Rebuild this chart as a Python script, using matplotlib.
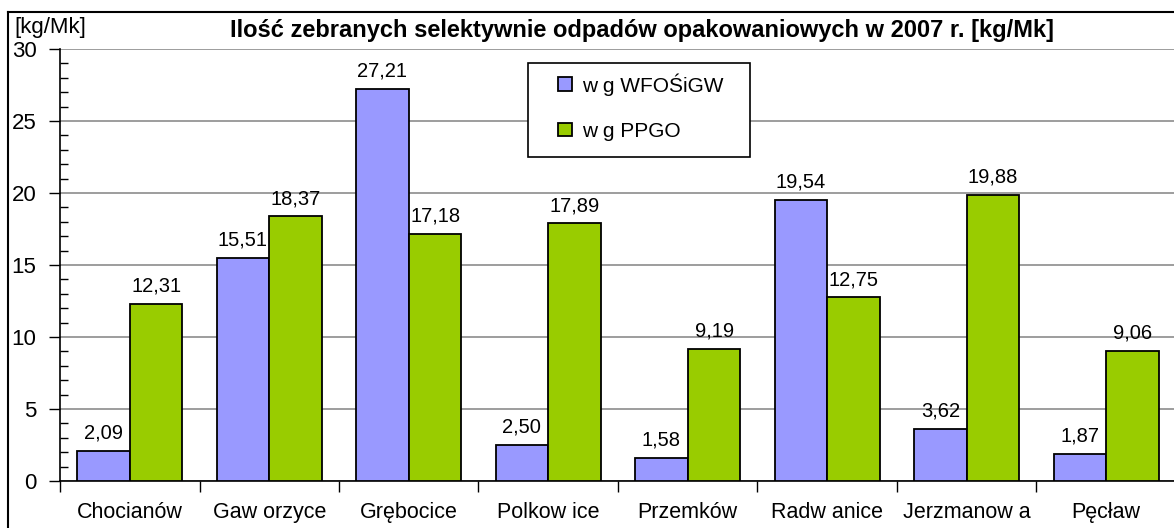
import numpy as np
import matplotlib
matplotlib.use("Agg")
import matplotlib.pyplot as plt
from matplotlib.lines import Line2D
from matplotlib.patches import Rectangle
from matplotlib.ticker import MultipleLocator, FixedLocator

plt.rcParams['font.family'] = ['Liberation Sans', 'DejaVu Sans']

gminy = ['Chocianów', 'Gaw orzyce', 'Grębocice', 'Polkow ice', 'Przemków',
         'Radw anice', 'Jerzmanow a', 'Pęcław']
wfosigw = [2.09, 15.51, 27.21, 2.50, 1.58, 19.54, 3.62, 1.87]
ppgo = [12.31, 18.37, 17.18, 17.89, 9.19, 12.75, 19.88, 9.06]
series_names = ['w g WFOŚiGW', 'w g PPGO']
title = 'Ilość zebranych selektywnie odpadów opakowaniowych w 2007 r. [kg/Mk]'

W, H = 1174, 528
fig = plt.figure(figsize=(W / 100, H / 100), dpi=100)
ax = fig.add_axes([60 / W, 1 - 481 / H, (1176 - 60) / W, (481 - 49) / H])

x = np.arange(len(gminy))
bw = 0.378
b1 = ax.bar(x - bw / 2, wfosigw, bw, color='#9999FF', edgecolor='black', linewidth=1.3,
            label=series_names[0], zorder=3)
b2 = ax.bar(x + bw / 2, ppgo, bw, color='#99CC00', edgecolor='black', linewidth=1.3,
            label=series_names[1], zorder=3)

for bars, vals in ((b1, wfosigw), (b2, ppgo)):
    for r, v in zip(bars, vals):
        ax.annotate(f'{v:.2f}'.replace('.', ','), (r.get_x() + r.get_width() / 2, v),
                    xytext=(0, 6), textcoords='offset points', ha='center', va='bottom',
                    fontsize=14.5, zorder=4)

ax.set_xlim(-0.5, len(gminy) - 0.5)
ax.set_ylim(0, 30)
ax.yaxis.set_major_locator(MultipleLocator(5))
ax.yaxis.set_minor_locator(MultipleLocator(1))
ax.tick_params(axis='y', which='major', direction='out', length=8, width=1, labelsize=16, pad=9)
ax.tick_params(axis='y', which='minor', direction='in', length=6, width=1)
ax.grid(axis='y', which='major', color='#8c8c8c', linewidth=1.2, zorder=0)

ax.xaxis.set_major_locator(FixedLocator(np.arange(-0.5, len(gminy), 1.0)))
ax.xaxis.set_minor_locator(FixedLocator(x))
ax.set_xticklabels([], minor=False)
ax.set_xticklabels(gminy, minor=True)
ax.tick_params(axis='x', which='major', direction='out', length=8, width=1)
ax.tick_params(axis='x', which='minor', length=0, labelsize=15.5, pad=15)

for s in ('top', 'right'):
    ax.spines[s].set_visible(False)
for s in ('left', 'bottom'):
    ax.spines[s].set_linewidth(1.2)
ax.set_axisbelow(True)

# legend box drawn by hand, entries placed inside it
ax.add_patch(Rectangle((528 / W, 1 - 157 / H), (750 - 528) / W, (157 - 63) / H,
                       transform=fig.transFigure, facecolor='white', edgecolor='black',
                       linewidth=1.2, zorder=5, clip_on=False))
leg = ax.legend(loc='center left', bbox_to_anchor=(558 / W, 1 - 107 / H),
                bbox_transform=fig.transFigure, frameon=False, fontsize=15,
                handlelength=0.65, handleheight=0.65, handletextpad=0.5,
                labelspacing=1.25, borderpad=0, borderaxespad=0)
leg.set_zorder(6)

fig.text(642 / W, 1 - 31 / H, title, ha='center', va='center', fontsize=17,
         fontweight='bold')
fig.text(14 / W, 1 - 28 / H, '[kg/Mk]', ha='left', va='center', fontsize=16)

# outer chart border (cut off on right and bottom)
fig.add_artist(Line2D([8 / W, 8 / W], [0, 1 - 12 / H], transform=fig.transFigure,
                      color='black', linewidth=1.5))
fig.add_artist(Line2D([8 / W, 1], [1 - 12 / H, 1 - 12 / H], transform=fig.transFigure,
                      color='black', linewidth=1.5))

fig.savefig('out.png', dpi=100)
